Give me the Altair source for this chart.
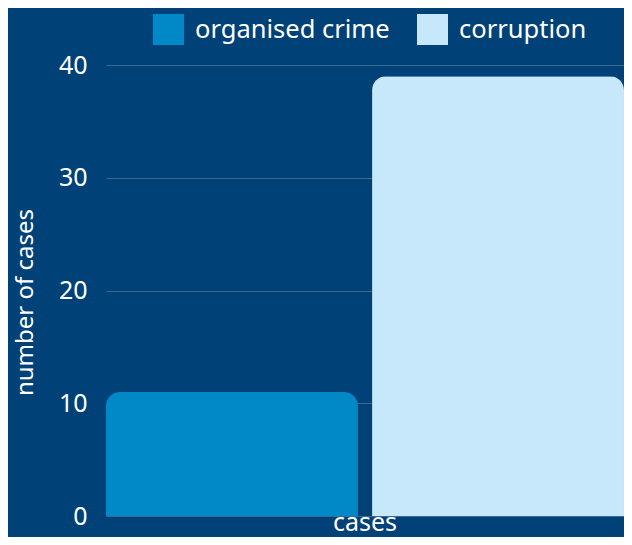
import altair as alt
import pandas as pd

groups = ["cases", "cases"]
categories = ["organised crime", "corruption"]
values = [11, 39]
colors = ["#0088c7", "#c6e8fa"]

df = pd.DataFrame({"group": groups, "category": categories, "value": values})

chart = alt.Chart(df).mark_bar(
    cornerRadiusTopLeft=14, cornerRadiusTopRight=14
).encode(
    x=alt.X("group:N", title=None,
            scale=alt.Scale(paddingInner=0, paddingOuter=0),
            axis=alt.Axis(labelAngle=0, labelFontSize=25, labelColor="#ffffff",
                          labelPadding=14, labelBaseline="alphabetic",
                          ticks=False, domain=False, grid=False)),
    xOffset=alt.XOffset("category:N", sort=categories,
                        scale=alt.Scale(paddingInner=0.053, paddingOuter=0)),
    y=alt.Y("value:Q", title="number of cases",
            scale=alt.Scale(domain=[0, 40]),
            axis=alt.Axis(values=[0, 10, 20, 30, 40], labelFontSize=25,
                          labelColor="#ffffff", labelPadding=19, ticks=False,
                          domain=False, titleFontSize=24, titleFontWeight="normal",
                          titleColor="#ffffff", titleX=-81, titleY=237,
                          titleAngle=-90, titleAlign="center", titleBaseline="middle",
                          gridColor="#ffffff", gridOpacity=0.22, gridWidth=1)),
    color=alt.Color("category:N", sort=categories,
                    scale=alt.Scale(domain=categories, range=colors),
                    legend=alt.Legend(title=None, orient="none", direction="horizontal",
                                      legendX=47, legendY=-51,
                                      symbolType="square", symbolSize=961,
                                      symbolStrokeWidth=0, symbolOpacity=1,
                                      labelFontSize=25.5, labelColor="#ffffff",
                                      labelLimit=400,
                                      labelOffset=11, columnPadding=27)),
).properties(
    width=518, height=451,
    background="#004178",
    padding={"left": 98, "top": 57, "right": 0, "bottom": 21},
    autosize=alt.AutoSizeParams(type="none"),
).configure(
    font="Noto Sans",
).configure_view(stroke=None)

chart.save("out.html", embed_options={"renderer": "svg", "actions": False})
